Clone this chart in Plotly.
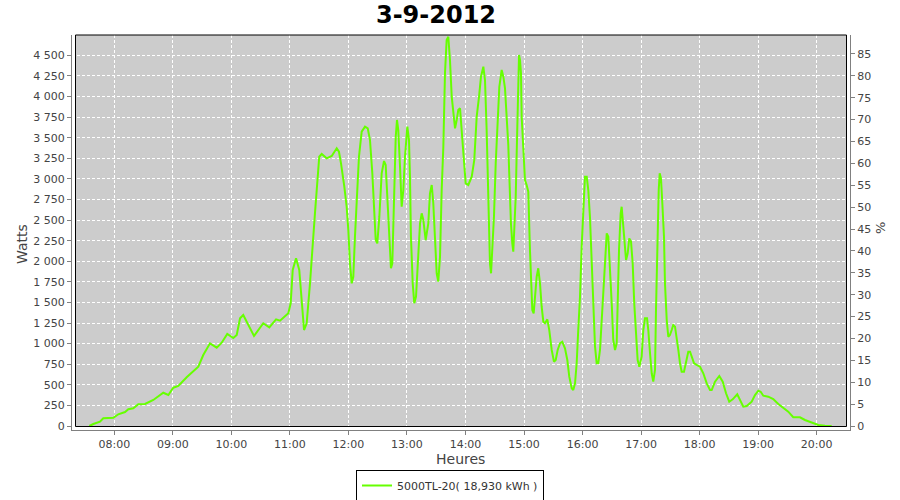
import plotly.graph_objects as go

DAY = "2012-09-03"
TITLE = "3-9-2012"
SERIES_NAME = "5000TL-20( 18,930 kWh )"

times = ["07:34:24","07:38:30","07:45:18","07:48:42","07:59:00","08:04:06","08:11:00","08:14:24","08:19:30","08:24:36",
"08:31:30","08:40:00","08:50:12","08:55:24","09:00:30","09:05:36","09:14:12","09:21:00","09:26:06","09:31:12",
"09:38:06","09:45:00","09:50:06","09:55:48","10:02:00","10:05:30","10:08:54","10:12:12","10:23:12","10:32:42",
"10:38:54","10:45:48","10:49:54","10:58:24","11:00:48","11:02:54","11:06:18","11:09:36","11:12:06","11:14:30",
"11:17:12","11:20:36","11:25:42","11:30:06","11:32:36","11:37:42","11:42:54","11:48:00","11:50:18","11:52:24",
"11:55:48","11:58:12","11:59:54","12:01:36","12:03:24","12:05:00","12:06:42","12:08:30","12:10:48","12:13:36",
"12:17:00","12:19:48","12:22:06","12:24:30","12:26:30","12:28:00","12:29:36","12:31:42","12:34:06","12:36:30",
"12:38:12","12:39:54","12:41:54","12:43:36","12:45:00","12:47:00","12:48:30","12:49:48","12:51:06","12:52:54",
"12:54:36","12:56:18","12:58:00","13:00:24","13:02:06","13:03:06","13:04:06","13:05:54","13:07:30","13:09:18",
"13:11:00","13:13:24","13:15:06","13:16:48","13:19:12","13:21:54","13:23:36","13:25:24","13:27:00","13:28:42",
"13:30:30","13:32:06","13:33:54","13:35:36","13:37:18","13:39:00","13:40:42","13:42:24","13:44:06","13:45:54",
"13:47:30","13:49:18","13:51:00","13:52:36","13:54:24","13:56:06","13:57:48","14:00:12","14:02:54","14:06:24",
"14:09:00","14:11:30","14:13:54","14:15:54","14:18:18","14:20:00","14:21:42","14:23:24","14:25:06","14:26:12",
"14:27:30","14:29:12","14:31:00","14:32:36","14:34:42","14:37:06","14:38:48","14:40:30","14:42:12","14:43:54",
"14:44:54","14:45:36","14:46:36","14:48:00","14:49:00","14:50:00","14:51:30","14:52:30","14:53:30","14:54:54",
"14:55:54","14:56:54","14:57:36","14:59:18","15:01:00","15:02:42","15:04:24","15:06:06","15:07:12","15:08:30",
"15:09:54","15:11:18","15:13:00","15:14:36","15:16:24","15:18:06","15:19:48","15:21:30","15:23:54","15:25:54",
"15:28:24","15:30:42","15:32:30","15:34:30","15:36:54","15:39:12","15:42:00","15:44:24","15:46:24","15:48:54",
"15:50:30","15:52:18","15:54:00","15:55:36","15:57:24","15:59:06","16:00:48","16:02:30","16:04:18","16:05:54",
"16:07:36","16:09:24","16:11:00","16:12:48","16:14:30","16:16:06","16:17:54","16:19:36","16:21:18","16:23:00",
"16:24:48","16:26:24","16:28:06","16:29:54","16:31:30","16:33:18","16:35:00","16:36:00","16:37:24","16:39:06",
"16:40:06","16:41:48","16:43:30","16:44:36","16:46:18","16:47:54","16:49:42","16:51:24","16:53:00","16:54:48",
"16:56:30","16:58:12","17:00:36","17:02:18","17:04:00","17:06:06","17:07:24","17:09:12","17:10:54","17:12:30",
"17:14:18","17:15:18","17:16:36","17:18:06","17:19:06","17:20:24","17:21:48","17:23:30","17:24:30","17:26:18",
"17:27:54","17:29:36","17:31:24","17:33:00","17:34:48","17:36:30","17:38:12","17:39:54","17:41:36","17:44:00",
"17:46:00","17:48:24","17:50:12","17:51:54","17:54:18","17:57:00","18:00:24","18:03:48","18:07:18","18:10:42",
"18:12:24","18:15:48","18:20:12","18:23:42","18:27:06","18:30:24","18:33:54","18:38:36","18:41:24","18:44:48",
"18:48:18","18:53:24","18:56:48","19:00:12","19:02:36","19:05:18","19:10:24","19:15:30","19:20:42","19:25:48",
"19:30:54","19:36:00","19:42:54","19:48:00","19:54:54","20:01:42","20:08:30","20:15:24"]

watts = [0,24,52,93,100,142,170,203,215,263,
267,316,404,376,465,486,591,671,720,862,
1004,951,1011,1117,1068,1105,1307,1348,1093,1247,
1198,1295,1279,1368,1490,1894,2036,1894,1530,1165,
1247,1732,2582,3269,3302,3250,3278,3371,3330,3189,
2905,2662,2379,1975,1732,1812,2298,2784,3269,3573,
3634,3614,3472,3068,2501,2258,2218,2541,3068,3217,
3169,2784,2298,1915,1975,2784,3512,3715,3593,3148,
2662,2865,3269,3634,3472,3026,2298,1732,1490,1570,
2015,2461,2582,2501,2258,2461,2825,2926,2704,2298,
1854,1752,2055,2865,3391,4282,4686,4726,4443,3998,
3796,3614,3715,3836,3857,3593,3229,2946,2926,3026,
3229,3755,3998,4241,4362,4200,3593,2704,1975,1854,
2137,2541,3189,3675,4119,4322,4241,4100,3800,3410,
3050,2784,2461,2218,2117,2379,2784,3310,3836,4504,
4443,4282,3755,3351,2987,2926,2845,2137,1772,1408,
1368,1570,1812,1915,1732,1448,1266,1247,1295,1165,
923,781,801,923,1004,1023,943,801,599,458,
437,518,761,1165,1570,2177,2704,3026,3026,2865,
2541,1975,1368,963,761,761,923,1247,1692,1975,
2339,2298,1975,1490,1044,923,1004,1651,2137,2582,
2662,2420,2137,2015,2096,2278,2238,1975,1490,1084,
801,720,841,1165,1307,1307,1165,882,640,538,
680,1408,2137,2865,3068,3007,2704,2298,1732,1287,
1084,1105,1165,1226,1206,1084,923,761,659,659,
761,902,902,841,761,741,720,640,518,437,
437,538,607,538,397,295,324,385,316,234,
243,295,376,429,416,368,356,328,267,215,
174,106,106,73,45,12,4,0]

x_range = ["2012-09-03 07:16:38", "2012-09-03 20:34:11"]
watts_range = [-48.6, 4746.9]
pct_range = [-0.914, 89.34]

x = [DAY + " " + t for t in times]

GRAY = "#808080"
TXT = "#444444"
FONT = "DejaVu Sans"

fig = go.Figure()
fig.add_trace(go.Scatter(x=x, y=watts, mode="lines", name=SERIES_NAME,
                         line=dict(color="#66FF00", width=2), hoverinfo="skip"))
fig.add_trace(go.Scatter(x=[x[0]], y=[0], yaxis="y2", mode="lines", showlegend=False,
                         hoverinfo="skip", line=dict(width=0)))

W, H = 900, 500
L, R, T, B = 72, 50, 35, 70
pw, ph = W - L - R, H - T - B
ix0 = (75.5 - L) / pw
ix1 = (846.5 - L) / pw
iy0 = ((H - B) - 426.5) / ph

axis_common = dict(showline=True, linecolor=GRAY, linewidth=1, ticks="outside", ticklen=4,
                   tickcolor=GRAY, tickfont=dict(family=FONT, size=11, color=TXT), zeroline=False,
                   automargin=False)

fig.update_layout(
    width=W, height=H,
    margin=dict(l=L, r=R, t=T, b=B, pad=0, autoexpand=False),
    paper_bgcolor="white", plot_bgcolor="white",
    separators=", ",
    font=dict(family=FONT, color=TXT),
    title=dict(text="<b>" + TITLE + "</b>", x=436 / W, xref="container", xanchor="center",
               y=1 - 15 / H, yref="container", yanchor="middle",
               font=dict(family=FONT, size=24, color="black")),
    xaxis=dict(type="date", range=x_range, tickformat="%H:%M", dtick=3600000,
               tick0=DAY + " 08:00", showgrid=True, gridcolor="white", griddash="3px,2px",
               gridwidth=1, **axis_common),
    yaxis=dict(range=watts_range, tick0=0, dtick=250, tickformat=",d", showgrid=True,
               gridcolor="white", griddash="3px,2px", gridwidth=1, **axis_common),
    yaxis2=dict(range=pct_range, tick0=0, dtick=5, overlaying="y", side="right",
                showgrid=False, **axis_common),
    showlegend=True,
    legend=dict(orientation="h", x=(450 - L) / pw, xanchor="center",
                y=((H - B) - 470) / ph, yanchor="top", bordercolor="black", borderwidth=1,
                bgcolor="white", font=dict(family=FONT, size=11, color="#333333")),
    shapes=[
        dict(type="rect", xref="paper", yref="paper", x0=ix0, x1=ix1, y0=iy0, y1=1,
             fillcolor="#CCCCCC", line=dict(width=0), layer="below"),
        dict(type="rect", xref="paper", yref="paper", x0=ix0, x1=ix1, y0=iy0, y1=1,
             fillcolor="rgba(0,0,0,0)", line=dict(color="black", width=1), layer="above"),
    ],
    annotations=[
        dict(text="Watts", xref="paper", yref="paper", x=(22 - L) / pw, y=((H - B) - 244) / ph,
             showarrow=False, textangle=-90, font=dict(family=FONT, size=14, color=TXT),
             xanchor="center", yanchor="middle"),
        dict(text="%", xref="paper", yref="paper", x=(880 - L) / pw, y=((H - B) - 228) / ph,
             showarrow=False, textangle=-90, font=dict(family=FONT, size=13, color=TXT),
             xanchor="center", yanchor="middle"),
        dict(text="Heures", xref="paper", yref="paper", x=(460 - L) / pw, y=((H - B) - 459) / ph,
             showarrow=False, font=dict(family=FONT, size=14, color=TXT),
             xanchor="center", yanchor="middle"),
    ],
)

fig.write_html("out.html", config={"displayModeBar": False},
               post_script="document.body.style.margin='0';document.body.style.overflow='hidden';")
